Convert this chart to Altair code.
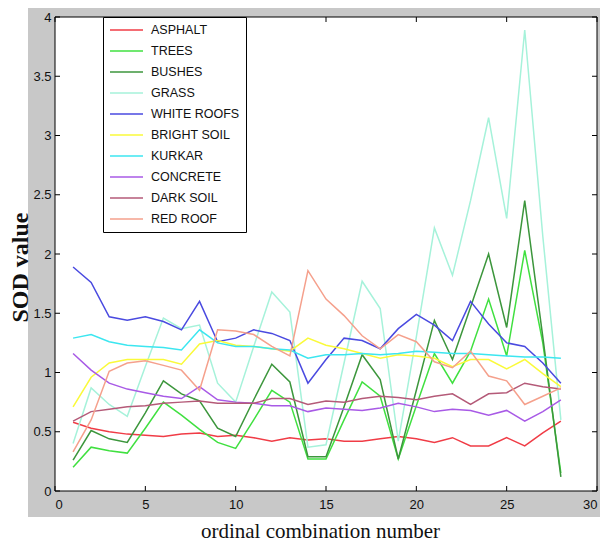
import altair as alt
import pandas as pd

X = list(range(1, 29))
NAMES = ["ASPHALT", "TREES", "BUSHES", "GRASS", "WHITE ROOFS", "BRIGHT SOIL",
         "KURKAR", "CONCRETE", "DARK SOIL", "RED ROOF"]
COLORS = ["#f03c46", "#40e040", "#3c963c", "#a6f2da", "#4a4ae0", "#fafa3a",
          "#3ce6f0", "#a85ae6", "#b45a78", "#f5a08c"]

ASPHALT = [0.58, 0.53, 0.50, 0.48, 0.47, 0.46, 0.48, 0.49, 0.46, 0.47, 0.45, 0.42, 0.45, 0.43,
           0.44, 0.42, 0.42, 0.44, 0.46, 0.44, 0.41, 0.45, 0.38, 0.38, 0.45, 0.38, 0.49, 0.59]
TREES = [0.20, 0.37, 0.34, 0.32, 0.53, 0.75, 0.64, 0.52, 0.41, 0.36, 0.60, 0.85, 0.75, 0.27,
         0.27, 0.60, 0.92, 0.80, 0.27, 0.72, 1.16, 0.91, 1.18, 1.62, 1.14, 2.03, 1.25, 0.15]
BUSHES = [0.26, 0.51, 0.44, 0.41, 0.66, 0.93, 0.82, 0.76, 0.53, 0.46, 0.77, 1.07, 0.92, 0.29,
          0.29, 0.71, 1.15, 0.94, 0.27, 0.85, 1.44, 1.11, 1.55, 2.00, 1.38, 2.45, 1.30, 0.12]
GRASS = [0.40, 0.87, 0.73, 0.63, 1.05, 1.46, 1.37, 1.40, 0.91, 0.75, 1.22, 1.68, 1.51, 0.37,
         0.39, 1.08, 1.77, 1.54, 0.42, 1.30, 2.22, 1.82, 2.45, 3.15, 2.30, 3.89, 2.15, 0.60]
WHITE_ROOFS = [1.89, 1.76, 1.47, 1.44, 1.47, 1.43, 1.36, 1.60, 1.26, 1.29, 1.36, 1.33, 1.27, 0.91,
               1.11, 1.29, 1.27, 1.20, 1.37, 1.49, 1.40, 1.27, 1.60, 1.41, 1.25, 1.22, 1.08, 0.91]
BRIGHT_SOIL = [0.71, 0.96, 1.08, 1.11, 1.11, 1.11, 1.07, 1.24, 1.27, 1.23, 1.22, 1.20, 1.18, 1.29,
               1.23, 1.20, 1.16, 1.12, 1.15, 1.14, 1.12, 1.05, 1.11, 1.11, 1.03, 1.11, 0.99, 0.88]
KURKAR = [1.29, 1.32, 1.26, 1.23, 1.22, 1.21, 1.19, 1.36, 1.25, 1.22, 1.22, 1.20, 1.19, 1.12,
          1.15, 1.15, 1.16, 1.15, 1.16, 1.18, 1.17, 1.16, 1.16, 1.15, 1.14, 1.13, 1.13, 1.12]
CONCRETE = [1.16, 1.02, 0.91, 0.86, 0.83, 0.80, 0.78, 0.88, 0.77, 0.75, 0.74, 0.72, 0.72, 0.67,
            0.70, 0.69, 0.68, 0.70, 0.74, 0.71, 0.67, 0.69, 0.68, 0.64, 0.68, 0.59, 0.67, 0.77]
DARK_SOIL = [0.59, 0.67, 0.69, 0.71, 0.72, 0.74, 0.75, 0.76, 0.74, 0.74, 0.74, 0.78, 0.78, 0.73,
             0.76, 0.75, 0.78, 0.80, 0.79, 0.77, 0.80, 0.82, 0.73, 0.82, 0.83, 0.91, 0.88, 0.86]
RED_ROOF = [0.33, 0.60, 1.01, 1.08, 1.10, 1.06, 1.02, 0.85, 1.36, 1.35, 1.32, 1.22, 1.14, 1.86,
            1.62, 1.48, 1.31, 1.20, 1.32, 1.26, 1.09, 1.04, 1.18, 0.97, 0.93, 0.73, 0.80, 0.87]

SERIES = [ASPHALT, TREES, BUSHES, GRASS, WHITE_ROOFS, BRIGHT_SOIL, KURKAR, CONCRETE,
          DARK_SOIL, RED_ROOF]

X_TICKS = [0, 5, 10, 15, 20, 25, 30]
Y_TICKS = [0, 0.5, 1, 1.5, 2, 2.5, 3, 3.5, 4]

W, H = 542, 474

rows = []
for name, vals in zip(NAMES, SERIES):
    for x, v in zip(X, vals):
        rows.append({"x": x, "v": v, "series": name})
df = pd.DataFrame(rows)

one = pd.DataFrame({"k": [0]})
xscale = alt.Scale(domain=[0, 30], nice=False, zero=False)
yscale = alt.Scale(domain=[0, 4], nice=False)

X_AXIS = alt.Axis(
    values=X_TICKS, ticks=False, grid=False, domain=False, zindex=2,
    labelFont="Liberation Sans", labelFontSize=13, labelColor="#111",
    labelPadding=7,
    title="ordinal combination number", titleFont="Liberation Serif",
    titleFontSize=21, titleFontWeight="normal", titleColor="#111",
    titleX=265, titleY=50, titleAlign="center", titleBaseline="bottom")
Y_AXIS = alt.Axis(
    values=Y_TICKS, format="~g", ticks=False, grid=False, domain=False, zindex=2,
    labelFont="Liberation Sans", labelFontSize=13, labelColor="#111",
    labelPadding=4,
    title="SOD value", titleFont="Liberation Serif", titleFontSize=24,
    titleFontWeight="bold", titleColor="#111", titleAngle=270,
    titleX=-35, titleY=250, titleAlign="center", titleBaseline="middle")

gray = alt.Chart(one).mark_rect(color="#c8c8c8").encode(
    x=alt.value(-27), x2=alt.value(552), y=alt.value(-10), y2=alt.value(500))
white = alt.Chart(one).mark_rect(color="white").encode(
    x=alt.value(0), x2=alt.value(W), y=alt.value(0), y2=alt.value(H))

lines = alt.Chart(df).mark_line(strokeWidth=1.5).encode(
    x=alt.X("x:Q", scale=xscale, axis=X_AXIS),
    y=alt.Y("v:Q", scale=yscale, axis=Y_AXIS),
    color=alt.Color("series:N", scale=alt.Scale(domain=NAMES, range=COLORS),
                    legend=alt.Legend(
                        title=None, orient="none", legendX=48, legendY=0,
                        strokeColor="black", fillColor="white", padding=6,
                        clipHeight=14, rowPadding=7, symbolSize=1089,
                        symbolStrokeWidth=1.5, symbolType="stroke",
                        labelFont="Liberation Sans", labelFontSize=12.5,
                        labelOffset=7, labelLimit=200, labelColor="#111")),
)

xt = pd.DataFrame({"x": X_TICKS})
yt = pd.DataFrame({"v": Y_TICKS})
tick_b = alt.Chart(xt).mark_rule(color="black").encode(
    x=alt.X("x:Q", scale=xscale, axis=X_AXIS), y=alt.value(H), y2=alt.value(H - 5))
tick_t = alt.Chart(xt).mark_rule(color="black").encode(
    x=alt.X("x:Q", scale=xscale, axis=X_AXIS), y=alt.value(0), y2=alt.value(5))
tick_l = alt.Chart(yt).mark_rule(color="black").encode(
    y=alt.Y("v:Q", scale=yscale, axis=Y_AXIS), x=alt.value(0), x2=alt.value(5))
tick_r = alt.Chart(yt).mark_rule(color="black").encode(
    y=alt.Y("v:Q", scale=yscale, axis=Y_AXIS), x=alt.value(W), x2=alt.value(W - 5))

frame = alt.Chart(one).mark_rect(filled=False, stroke="black", strokeWidth=1).encode(
    x=alt.value(0), x2=alt.value(W), y=alt.value(0), y2=alt.value(H))

chart = alt.layer(gray, white, lines, tick_b, tick_t, tick_l, tick_r, frame).properties(
    width=W, height=H,
    padding={"left": 47, "top": 9, "right": 3, "bottom": 51},
    autosize=alt.AutoSizeParams(type="none"),
    background="white",
).configure_view(stroke="transparent")

chart.save("out.html", embed_options={"renderer": "svg", "actions": False})
